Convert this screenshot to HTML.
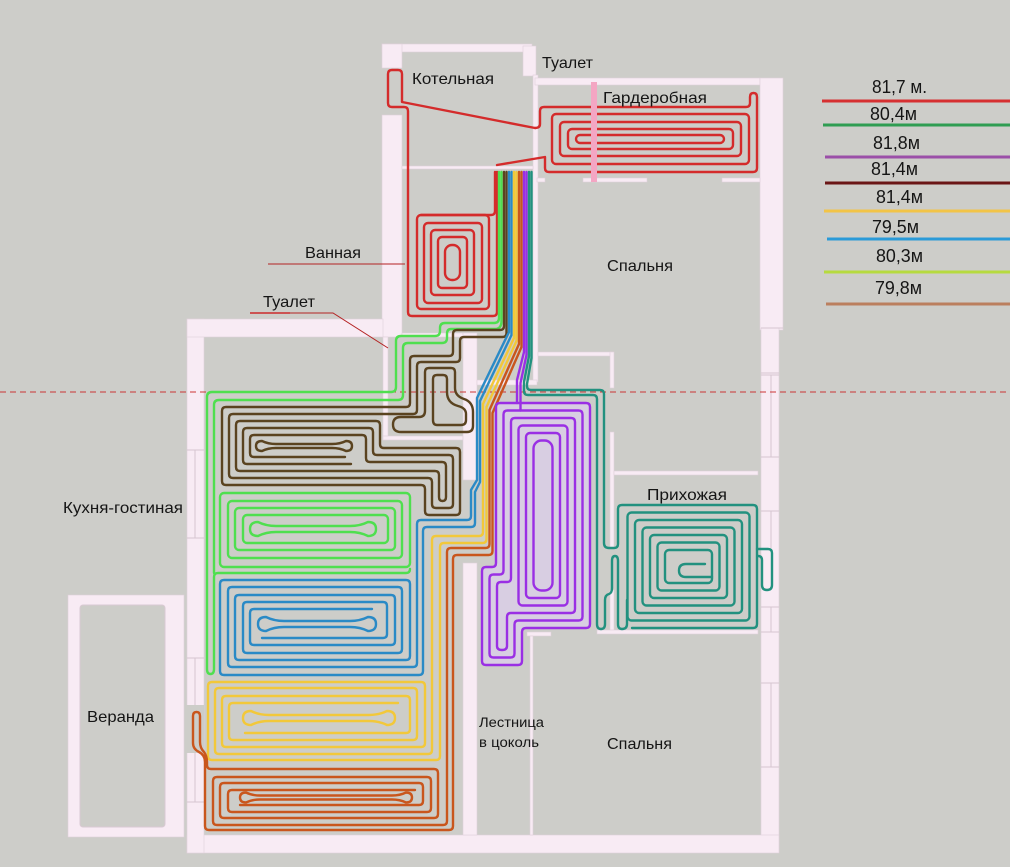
<!DOCTYPE html>
<html><head><meta charset="utf-8">
<style>
html,body{margin:0;padding:0;background:#cdcdc9;}
svg{display:block;}
text{font-family:"Liberation Sans","DejaVu Sans",sans-serif;fill:#151515;}
</style></head><body>
<svg width="1010" height="867" viewBox="0 0 1010 867" xmlns="http://www.w3.org/2000/svg">
<rect width="1010" height="867" fill="#cdcdc9"/>

<!-- purple tint -->
<path d="M500,403 H586 Q590,403 590,407 V624 Q590,628 586,628 H526 Q522,628 522,632 V661 Q522,665 518,665 H486 Q482,665 482,661 V571 Q482,567 486,567 H492 Q496,567 496,563 V407 Q496,403 500,403 Z" fill="#d8cee2"/>

<!-- walls -->
<g fill="#f8ebf4" stroke="#e0d0da" stroke-width="0.6">
 <rect x="382" y="44" width="150" height="8"/>
 <rect x="382" y="44" width="20" height="24"/>
 <rect x="382" y="115" width="20" height="222"/>
 <rect x="523" y="46" width="13" height="30"/>
 <rect x="533" y="75" width="5" height="307"/>
 <rect x="535" y="78" width="225" height="7"/>
 <rect x="760" y="78" width="23" height="252"/>
 <rect x="761" y="328" width="18" height="524"/>
 <rect x="187" y="835" width="592" height="18"/>
 <rect x="187" y="319" width="17" height="534"/>
 <rect x="187" y="319" width="196" height="18"/>
 <rect x="402" y="333" width="61" height="4"/>
 <rect x="383" y="337" width="5" height="103"/>
 <rect x="383" y="436" width="80" height="4"/>
 <rect x="463" y="333" width="14" height="147"/>
 <rect x="463" y="563" width="14" height="272"/>
 <rect x="477" y="380" width="60" height="5"/>
 <rect x="402" y="166" width="131" height="3"/>
 <rect x="537" y="178" width="8" height="4"/>
 <rect x="583" y="178" width="64" height="4"/>
 <rect x="722" y="178" width="38" height="4"/>
 <rect x="538" y="352" width="75" height="4"/>
 <rect x="610" y="352" width="4" height="36"/>
 <rect x="610" y="432" width="4" height="116"/>
 <rect x="610" y="590" width="4" height="42"/>
 <rect x="614" y="471" width="144" height="4"/>
 <rect x="597" y="630" width="161" height="4"/>
 <rect x="527" y="632" width="24" height="4"/>
 <rect x="530" y="636" width="3" height="199"/>
 <rect x="68" y="595" width="116" height="242"/>
</g>
<rect x="80" y="605" width="85" height="222" rx="3" fill="#cdcdc9" stroke="#d9c9d3" stroke-width="1"/>
<rect x="186" y="705" width="18" height="48" fill="#cdcdc9"/>
<g stroke="#d6c6d0" stroke-width="1" fill="none">
 <path d="M195,450 V538 M187,450 H204 M187,538 H204"/>
 <path d="M195,658 V705 M187,658 H204"/>
 <path d="M195,753 V802 M187,802 H204"/>
 <path d="M761,328 H783 M761,373 H779 M771,375 V457 M761,375 H779 M761,457 H779 M771,511 V548 M761,511 H779 M771,607 V632 M761,607 H779 M761,632 H779 M771,683 V767 M761,683 H779 M761,767 H779"/>
</g>

<!-- dashed line -->
<line x1="0" y1="392" x2="1010" y2="392" stroke="#cc3535" stroke-width="1" stroke-dasharray="6,4"/>

<!-- pipes -->
<g fill="none" stroke-width="2.4" stroke-linejoin="round" stroke-linecap="round">
 <!-- RED -->
 <g stroke="#d42b2b">
  <path d="M535,128 L402,102 V74 Q402,70 398,70 H392 Q388,70 388,74 V103 Q388,107 392,107 H404 Q408,107 408,111 V312 Q408,316 412,316 H493 Q497,316 497,312 V172"/>
  <path d="M535,128 Q540,128 540,124 V111 Q540,107 544,107 H746 Q750,107 750,103 V97 Q750,93 753.5,93 Q757,93 757,97 V168 Q757,172 753,172 H549 Q545,172 545,168 V157 L497,165"/>
  <rect x="552" y="114" width="197" height="50" rx="4"/>
  <rect x="560" y="122" width="181" height="34" rx="4"/>
  <rect x="568" y="129" width="165" height="20" rx="4"/>
  <rect x="576" y="135" width="148" height="8" rx="4"/>
  <path d="M495,172 V211 Q495,215 491,215 H421"/>
  <rect x="417" y="215" width="72" height="94" rx="4"/>
  <rect x="424" y="223" width="58" height="80" rx="4"/>
  <rect x="431" y="230" width="43" height="65" rx="4"/>
  <rect x="438" y="237" width="29" height="51" rx="4"/>
  <rect x="445" y="245" width="15" height="35" rx="7"/>
 </g>
 <!-- GREEN -->
 <g stroke="#4fdf4f">
  <path d="M499,172 V318 Q499,323 494,323 H445 Q440,323 440,328 V331 Q440,336 435,336 H401 Q396,336 396,341 V387 Q396,392 391,392 H212 Q207,392 207,397 V669 Q207,674 210.5,674 Q214,674 214,669 V577 Q214,573 218,573 H406 Q410,573 410,569"/>
  <path d="M501.5,172 V321 Q501.5,329 495,329 H451 Q447,329 447,334 V338 Q447,343 442,343 H408 Q403,343 403,348 V395 Q403,400 398,400 H219 Q214,400 214,405 V573"/>
  <rect x="220" y="493" width="190" height="74" rx="4"/>
  <rect x="228" y="501" width="174" height="57" rx="4"/>
  <rect x="235" y="508" width="160" height="42" rx="4"/>
  <rect x="243" y="515" width="145" height="28" rx="4"/>
  <path d="M258,522 Q250,522 250,529 Q250,536 258,536 Q266,532 276,532 H350 Q360,532 368,536 Q376,536 376,529 Q376,522 368,522 Q360,526 350,526 H276 Q266,526 258,522 Z"/>
 </g>
 <!-- BROWN -->
 <g stroke="#5a4320">
  <path d="M504,172 V326 Q504,330 500,330 H457 Q453,330 453,334 V352 Q453,356 449,356 H414 Q410,356 410,360 V403 Q410,407 406,407 H226 Q222,407 222,411 V481 Q222,485 226,485 H421 Q425,485 425,489 V511 Q425,515 429,515 H456 Q460,515 460,511 V452 Q460,448 456,448 H384 Q380,448 380,444 V425 Q380,421 376,421 H240 Q236,421 236,425 V467 Q236,471 240,471 H435 Q439,471 439,475 V497 Q439,501 442.5,501 Q446,501 446,497 V466 Q446,462 442,462 H370 Q366,462 366,458 V439 Q366,435 362,435 H254 Q250,435 250,439 V453 Q250,457 254,457 H345"/>
  <path d="M506.5,172 V333 Q506.5,337 502.5,337 H464 Q460,337 460,341 V358 Q460,362 456,362 H421 Q417,362 417,366 V410 Q417,414 413,414 H233 Q229,414 229,418 V474 Q229,478 233,478 H428 Q432,478 432,482 V504 Q432,508 436,508 H449 Q453,508 453,504 V459 Q453,455 449,455 H377 Q373,455 373,451 V432 Q373,428 369,428 H247 Q243,428 243,432 V460 Q243,464 247,464 H351"/>
  <path d="M262,441 Q256,441 256,446 Q256,451 262,451 Q268,448 276,448 H332 Q340,448 346,451 Q352,451 352,446 Q352,441 346,441 Q340,444 332,444 H276 Q268,444 262,441 Z"/>
  <path d="M429,368 H451 Q455,368 455,372 V388 Q455,396 464,399 Q473,402 473,412 V426 Q473,432 467,432 H401 Q393,432 393,424.5 Q393,417 401,417 H419 Q425,417 425,411 V372 Q425,368 429,368 Z"/>
  <path d="M437,375 H443 Q447,375 447,379 V392 Q447,403 458,406 Q466,408 466,414 V420 Q466,425 461,425 H437 Q433,425 433,420 V379 Q433,375 437,375 Z"/>
 </g>
 <!-- BLUE -->
 <g stroke="#2a8ac6">
  <path d="M509,172 V332 L477,398 V480 L471,490 V516 Q471,520 467,520 H421 Q417,520 417,524 V663 Q417,667 413,667 H232 Q228,667 228,663 V591 Q228,587 232,587 H398 Q402,587 402,591 V649 Q402,653 398,653 H247 Q243,653 243,649 V606 Q243,602 247,602 H383 Q387,602 387,606 V634 Q387,638 383,638 H262"/>
  <path d="M511.5,172 V335 L480,401 V482 L475,492 V523 Q475,527 471,527 H427 Q423,527 423,531 V671 Q423,675 419,675 H224 Q220,675 220,671 V584 Q220,580 224,580 H406 Q410,580 410,584 V656 Q410,660 406,660 H239 Q235,660 235,656 V599 Q235,595 239,595 H391 Q395,595 395,599 V641 Q395,645 391,645 H254 Q250,645 250,641 V613 Q250,609 254,609 H372"/>
  <path d="M266,617 Q258,617 258,624 Q258,631 266,631 Q274,627 284,627 H350 Q360,627 368,631 Q376,631 376,624 Q376,617 368,617 Q360,621 350,621 H284 Q274,621 266,617 Z"/>
 </g>
 <!-- YELLOW -->
 <g stroke="#f2c83a">
  <path d="M514,172 V338 L483,404 V532 Q483,536 479,536 H436 Q432,536 432,540 V750 Q432,754 428,754 H219 Q215,754 215,750 V692 Q215,688 219,688 H413 Q417,688 417,692 V736 Q417,740 413,740 H233 Q229,740 229,736 V707 Q229,703 233,703 H398"/>
  <path d="M516.5,172 V341 L486.5,407 V539 Q486.5,543 482.5,543 H444 Q440,543 440,547 V756 Q440,760 436,760 H212 Q208,760 208,756 V686 Q208,682 212,682 H421 Q425,682 425,686 V743 Q425,747 421,747 H226 Q222,747 222,743 V700 Q222,696 226,696 H406 Q410,696 410,700 V729 Q410,733 406,733 H245"/>
  <path d="M251,711 Q243,711 243,718 Q243,725 251,725 Q259,721 269,721 H369 Q379,721 387,725 Q395,725 395,718 Q395,711 387,711 Q379,715 369,715 H269 Q259,715 251,711 Z"/>
 </g>
 <!-- ORANGE -->
 <g stroke="#c9561d">
  <path d="M519,172 V344 L489.5,410 V544 Q489.5,548 485.5,548 H451 Q447,548 447,552 V821 Q447,825 443,825 H217 Q213,825 213,821 V781 Q213,777 217,777 H427 Q431,777 431,781 V808 Q431,812 427,812 H232 Q228,812 228,808 V794 Q228,790 232,790 H415"/>
  <path d="M521.5,172 V347 L492.5,413 V551 Q492.5,555 488.5,555 H457 Q453,555 453,559 V826 Q453,830 449,830 H209 Q205,830 205,826 V762 Q205,755 199,752 Q193,749 193,743 V716 Q193,712 196.5,712 Q200,712 200,716 V742 Q200,748 204,752 Q207,756 207,762 V765 Q207,769 211,769 H434 Q438,769 438,773 V814 Q438,818 434,818 H224 Q220,818 220,814 V787 Q220,783 224,783 H419 Q423,783 423,787 V801 Q423,805 419,805 H240"/>
  <path d="M246,792.5 Q240,792.5 240,797.5 Q240,802.5 246,802.5 Q252,799.5 260,799.5 H392 Q400,799.5 406,802.5 Q412,802.5 412,797.5 Q412,792.5 406,792.5 Q400,795.5 392,795.5 H260 Q252,795.5 246,792.5 Z"/>
 </g>
 <!-- PURPLE -->
 <g stroke="#9a2fe4">
  <path d="M524,172 V352 L517,380 V403"/>
  <path d="M526.5,172 V355 L520.5,383 V410.5"/>
  <path d="M500,403 H586 Q590,403 590,407 V624 Q590,628 586,628 H526 Q522,628 522,632 V661 Q522,665 518,665 H486 Q482,665 482,661 V571 Q482,567 486,567 H492 Q496,567 496,563 V407 Q496,403 500,403 Z"/>
  <path d="M507.5,410.5 H578.5 Q582.5,410.5 582.5,414.5 V616.5 Q582.5,620.5 578.5,620.5 H518.5 Q514.5,620.5 514.5,624.5 V653.5 Q514.5,657.5 510.5,657.5 H493.5 Q489.5,657.5 489.5,653.5 V578.5 Q489.5,574.5 493.5,574.5 H499.5 Q503.5,574.5 503.5,570.5 V414.5 Q503.5,410.5 507.5,410.5 Z"/>
  <path d="M515,418 H571 Q575,418 575,422 V609 Q575,613 571,613 H511 Q507,613 507,617 V646 Q507,650 502,650 Q497,650 497,646 V586 Q497,582 501,582 H507 Q511,582 511,578 V422 Q511,418 515,418 Z"/>
  <rect x="518.5" y="425.5" width="49" height="180" rx="4"/>
  <rect x="526" y="433" width="34" height="165" rx="4"/>
  <rect x="533.5" y="440.5" width="19" height="150" rx="8"/>
 </g>
 <!-- TEAL -->
 <g stroke="#22917f">
  <path d="M531.5,172 V358 L527,384 V386 Q527,390 531,390 H600 Q604,390 604,394 V543 Q604,548 609,548 H614 Q618,548 618,544 V509 Q618,505 622,505 H753 Q757,505 757,509 V624 Q757,628 753,628 H632"/>
  <path d="M529,172 V356 L524,382 V391 Q524,395 528,395 H593 Q597,395 597,399 V624 Q597,629 601,629 Q605,629 605,624 V600 Q605,595 609,594 Q612,593 612,588 V561 Q612,556 615,556 Q618,556 618,561 V624 Q618,629 622,629 Q627,629 627,624 V600"/>
  <path d="M757,549 H768 Q772,549 772,553 V585 Q772,590 767,590 Q762,590 762,585 V560 Q762,556 758,556"/>
  <rect x="627.5" y="512.5" width="122" height="108" rx="4"/>
  <rect x="635" y="520" width="107" height="93" rx="4"/>
  <rect x="642.5" y="527.5" width="92" height="78" rx="4"/>
  <rect x="650" y="535" width="77" height="63" rx="4"/>
  <rect x="657.5" y="542.5" width="62" height="48" rx="4"/>
  <rect x="665" y="550" width="47" height="33" rx="4"/>
  <path d="M705,564 H686 Q679,564 679,570.5 Q679,577 686,577 H712"/>
 </g>
</g>

<!-- pink bar -->
<rect x="591" y="82" width="6" height="100" fill="#f4a6c3"/>

<!-- annotation lines -->
<line x1="268" y1="264" x2="405" y2="264" stroke="#b42222" stroke-width="1"/>
<path d="M250,313 H333 L388,348" fill="none" stroke="#b42222" stroke-width="1"/>
<line x1="250" y1="313" x2="290" y2="313" stroke="#cc2a2a" stroke-width="1.6"/>

<!-- room labels -->
<g font-size="16">
 <text x="412" y="84" textLength="82" lengthAdjust="spacingAndGlyphs">Котельная</text>
 <text x="542" y="68" textLength="51" lengthAdjust="spacingAndGlyphs">Туалет</text>
 <text x="603" y="103" textLength="104" lengthAdjust="spacingAndGlyphs">Гардеробная</text>
 <text x="305" y="258" textLength="56" lengthAdjust="spacingAndGlyphs">Ванная</text>
 <text x="263" y="307" textLength="52" lengthAdjust="spacingAndGlyphs">Туалет</text>
 <text x="607" y="271" textLength="66" lengthAdjust="spacingAndGlyphs">Спальня</text>
 <text x="647" y="500" textLength="80" lengthAdjust="spacingAndGlyphs">Прихожая</text>
 <text x="63" y="513" textLength="120" lengthAdjust="spacingAndGlyphs">Кухня-гостиная</text>
 <text x="87" y="722" textLength="67" lengthAdjust="spacingAndGlyphs">Веранда</text>
 <text x="607" y="749" textLength="65" lengthAdjust="spacingAndGlyphs">Спальня</text>
</g>
<g font-size="13.5">
 <text x="479" y="727" textLength="65" lengthAdjust="spacingAndGlyphs">Лестница</text>
 <text x="479" y="747" textLength="60" lengthAdjust="spacingAndGlyphs">в цоколь</text>
</g>

<!-- legend -->
<g stroke-width="3">
 <line x1="822" y1="101" x2="1010" y2="101" stroke="#d63031"/>
 <line x1="823" y1="125" x2="1010" y2="125" stroke="#2f9d52"/>
 <line x1="825" y1="157" x2="1010" y2="157" stroke="#9b4fa8"/>
 <line x1="825" y1="183" x2="1010" y2="183" stroke="#6a1515"/>
 <line x1="824" y1="211" x2="1010" y2="211" stroke="#f2c447"/>
 <line x1="827" y1="239" x2="1010" y2="239" stroke="#2a9ad8"/>
 <line x1="824" y1="272" x2="1010" y2="272" stroke="#b6da3f"/>
 <line x1="826" y1="304" x2="1010" y2="304" stroke="#bb7f5e"/>
</g>
<g font-size="18">
 <text x="872" y="93" textLength="55" lengthAdjust="spacingAndGlyphs">81,7 м.</text>
 <text x="870" y="120" textLength="47" lengthAdjust="spacingAndGlyphs">80,4м</text>
 <text x="873" y="149" textLength="47" lengthAdjust="spacingAndGlyphs">81,8м</text>
 <text x="871" y="175" textLength="47" lengthAdjust="spacingAndGlyphs">81,4м</text>
 <text x="876" y="203" textLength="47" lengthAdjust="spacingAndGlyphs">81,4м</text>
 <text x="872" y="233" textLength="47" lengthAdjust="spacingAndGlyphs">79,5м</text>
 <text x="876" y="262" textLength="47" lengthAdjust="spacingAndGlyphs">80,3м</text>
 <text x="875" y="294" textLength="47" lengthAdjust="spacingAndGlyphs">79,8м</text>
</g>
</svg>
</body></html>
